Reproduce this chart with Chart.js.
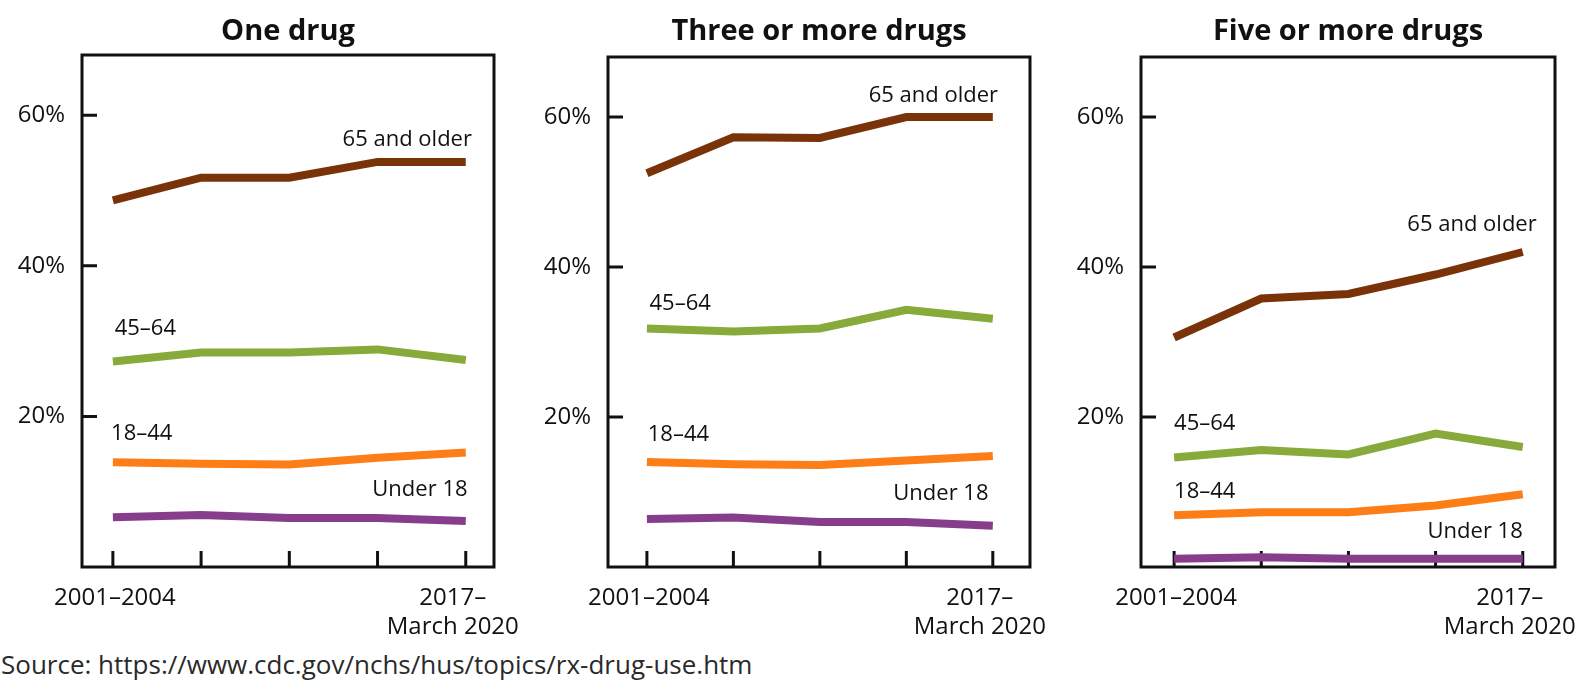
<!DOCTYPE html>
<html>
<head>
<meta charset="utf-8">
<script src="https://cdn.jsdelivr.net/npm/chart.js@4.4.0/dist/chart.umd.min.js"></script>
<style>
  html, body { margin: 0; padding: 0; background: #fff; overflow: hidden; }
  body { width: 1580px; height: 692px; position: relative; }
  canvas { position: absolute; top: 0; }
  #source { position: absolute; left: 1px; top: 646px; font: 26px/36px 'Open Sans', sans-serif; color: #2a2a2a; white-space: nowrap; }
</style>
</head>
<body>
<canvas id="oneDrug" width="530" height="645" style="left:0px"></canvas>
<canvas id="threeDrugs" width="530" height="645" style="left:530px"></canvas>
<canvas id="fiveDrugs" width="520" height="645" style="left:1060px"></canvas>
<div id="source">Source: https://www.cdc.gov/nchs/hus/topics/rx-drug-use.htm</div>
<script>
// Survey periods and age groups
const periods = ['2001–2004', '2005–2008', '2009–2012', '2013–2016', '2017–March 2020'];
const ageGroups = ['65 and older', '45–64', '18–44', 'Under 18'];
const ageColors = ['#7a3309', '#87aa3b', '#fd7e17', '#873d8c'];
const yTicks = [20, 40, 60];

// One drug (%)
const oneDrug65 = [48.7, 51.7, 51.7, 53.8, 53.8];
const oneDrug45 = [27.3, 28.5, 28.5, 28.9, 27.5];
const oneDrug18 = [13.9, 13.7, 13.6, 14.5, 15.2];
const oneDrugU18 = [6.6, 6.9, 6.5, 6.5, 6.1];

// Three or more drugs (%)
const threeDrug65 = [52.5, 57.3, 57.2, 60.0, 60.0];
const threeDrug45 = [31.8, 31.4, 31.8, 34.3, 33.1];
const threeDrug18 = [14.0, 13.7, 13.6, 14.2, 14.8];
const threeDrugU18 = [6.4, 6.6, 6.0, 6.0, 5.5];

// Five or more drugs (%)
const fiveDrug65 = [30.6, 35.8, 36.4, 39.0, 42.0];
const fiveDrug45 = [14.6, 15.6, 15.0, 17.8, 16.0];
const fiveDrug18 = [6.9, 7.3, 7.3, 8.2, 9.7];
const fiveDrugU18 = [1.1, 1.3, 1.1, 1.1, 1.1];

Chart.defaults.font.family = "'Open Sans', sans-serif";
Chart.defaults.color = '#111';

// box, inward ticks, title, period labels and line labels
const panelFrame = {
    id: 'panelFrame',
    beforeDatasetsDraw(chart) {
        const { ctx, chartArea: a, scales: { x, y } } = chart;
        ctx.save();
        ctx.strokeStyle = '#111';
        ctx.lineWidth = 3;
        ctx.strokeRect(a.left, a.top, a.right - a.left, a.bottom - a.top);
        ctx.beginPath();
        yTicks.forEach(v => {
            const py = y.getPixelForValue(v);
            ctx.moveTo(a.left, py);
            ctx.lineTo(a.left + 15, py);
        });
        periods.forEach((p, i) => {
            const px = x.getPixelForValue(i);
            ctx.moveTo(px, a.bottom);
            ctx.lineTo(px, a.bottom - 16);
        });
        ctx.stroke();
        ctx.restore();
    },
    afterDraw(chart, args, opts) {
        const { ctx, chartArea: a, scales: { x, y } } = chart;
        ctx.save();
        ctx.fillStyle = '#111';
        ctx.textBaseline = 'middle';
        ctx.textAlign = 'center';
        ctx.font = "bold 29px 'Open Sans'";
        ctx.fillText(opts.title, (a.left + a.right) / 2, 32);
        ctx.font = "24px 'Open Sans'";
        ctx.fillText(periods[0], x.getPixelForValue(0) + 2, a.bottom + 31);
        const last = periods[periods.length - 1].split('–');
        const lx = x.getPixelForValue(periods.length - 1) - 13;
        ctx.fillText(last[0] + '–', lx, a.bottom + 31);
        ctx.fillText(last[1], lx, a.bottom + 60);
        ctx.font = "22px 'Open Sans'";
        opts.labels.forEach((l, i) => {
            ctx.textAlign = l[2];
            ctx.fillText(ageGroups[i], x.getPixelForValue(l[0]), y.getPixelForValue(l[1]));
        });
        ctx.restore();
    }
};

const panels = [
    { id: 'oneDrug', title: 'One drug', series: [oneDrug65, oneDrug45, oneDrug18, oneDrugU18],
      xMin: -0.35, xMax: 4.32, axisWidth: 82, padRight: 36, top: 55,
      labels: [[4.07, 56.8, 'right'], [0.02, 31.7, 'left'], [-0.02, 17.7, 'left'], [4.02, 10.2, 'right']] },
    { id: 'threeDrugs', title: 'Three or more drugs', series: [threeDrug65, threeDrug45, threeDrug18, threeDrugU18],
      xMin: -0.45, xMax: 4.43, axisWidth: 78, padRight: 30, top: 57,
      labels: [[4.06, 62.8, 'right'], [0.03, 35.1, 'left'], [0.01, 17.6, 'left'], [3.95, 9.8, 'right']] },
    { id: 'fiveDrugs', title: 'Five or more drugs', series: [fiveDrug65, fiveDrug45, fiveDrug18, fiveDrugU18],
      xMin: -0.38, xMax: 4.37, axisWidth: 81, padRight: 25, top: 57,
      labels: [[4.16, 45.7, 'right'], [0.0, 19.1, 'left'], [0.0, 10.1, 'left'], [4.0, 4.7, 'right']] }
];

panels.forEach(p => {
    const ctx = document.getElementById(p.id).getContext('2d');
    new Chart(ctx, {
        type: 'line',
        data: {
            datasets: p.series.map((vals, s) => ({
                label: ageGroups[s],
                data: vals.map((v, i) => ({ x: i, y: v })),
                borderColor: ageColors[s],
                borderWidth: 8,
                borderCapStyle: 'butt',
                pointRadius: 0,
                tension: 0,
                clip: false
            }))
        },
        options: {
            responsive: false,
            animation: false,
            layout: { padding: { top: p.top, right: p.padRight } },
            plugins: {
                legend: { display: false },
                tooltip: { enabled: false },
                title: { display: false },
                panelFrame: { labels: p.labels, title: p.title }
            },
            scales: {
                x: {
                    type: 'linear',
                    min: p.xMin,
                    max: p.xMax,
                    grid: { display: false },
                    border: { display: false },
                    ticks: { display: false },
                    afterFit: s => { s.height = 645 - 567; }
                },
                y: {
                    min: 0,
                    max: 68,
                    grid: { display: false, drawTicks: false },
                    border: { display: false },
                    ticks: {
                        stepSize: 20,
                        includeBounds: false,
                        padding: 17,
                        font: { size: 24 },
                        color: '#111',
                        callback: v => v === 0 ? '' : v + '%'
                    },
                    afterFit: s => { s.width = p.axisWidth; }
                }
            }
        },
        plugins: [panelFrame]
    });
});
</script>
</body>
</html>
